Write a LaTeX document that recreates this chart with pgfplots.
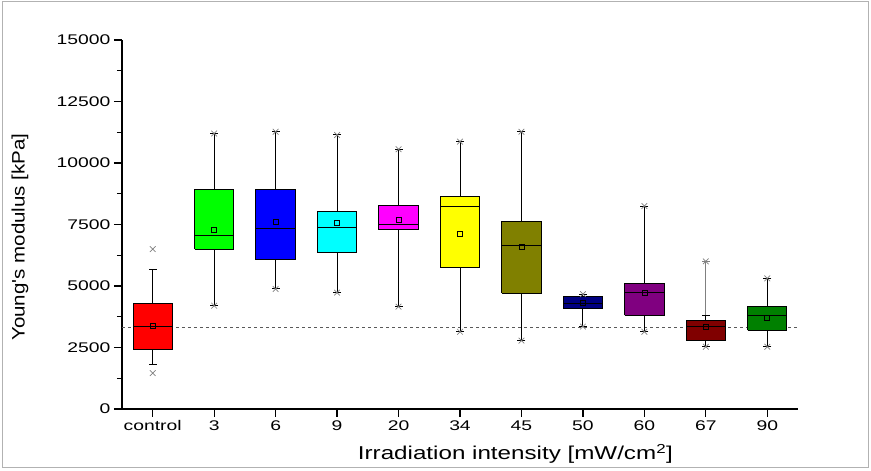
\documentclass[border=0pt]{standalone}
\usepackage{fontspec}
\setmainfont{Liberation Sans}
\newfontfamily\tickfont{Liberation Sans}[FakeStretch=1.38]
\newfontfamily\xlabfont{Liberation Sans}[FakeStretch=1.3]
\newfontfamily\ylabfont{Liberation Sans}[FakeStretch=1.14]
\usepackage{pgfplots}
\pgfplotsset{compat=1.18}
\definecolor{cRed}{RGB}{255,0,0}
\definecolor{cBlue}{RGB}{0,0,255}
\definecolor{cCyan}{RGB}{0,255,255}
\definecolor{cMagenta}{RGB}{255,0,255}
\definecolor{cYellow}{RGB}{255,255,0}
\definecolor{cOlive}{RGB}{128,128,0}
\definecolor{cNavy}{RGB}{0,0,128}
\definecolor{cPurple}{RGB}{128,0,128}
\definecolor{cMaroon}{RGB}{128,0,0}
\definecolor{cDGreen}{RGB}{0,128,0}
\definecolor{cLime}{RGB}{0,255,0}
\def\wcol{black}
% #1 centre, #2 left, #3 right, #4 lower whisker, #5 Q1, #6 median, #7 Q3, #8 upper whisker, #9 fill
\newcommand{\bx}[9]{%
\addplot[\wcol, line width=1pt, mark=-, mark size=4pt, mark options={solid}] coordinates {(#1,#4) (#1,#5)};
\addplot[\wcol, line width=1pt, mark=-, mark size=4pt, mark options={solid}] coordinates {(#1,#7) (#1,#8)};
\addplot[draw=black, fill=#9, line width=1pt, line join=miter] coordinates {(#2,#5) (#3,#5) (#3,#7) (#2,#7) (#2,#5)};
\addplot[black, line width=1pt] coordinates {(#2,#6) (#3,#6)};
}
\begin{document}
\begin{tikzpicture}
\useasboundingbox (0,0) rectangle (871pt,471pt);
\draw[gray!60, line width=1pt] (2pt,3pt) rectangle (868pt,469pt);
\begin{axis}[
 at={(122pt,62pt)}, anchor=south west,
 scale only axis, width=676pt, height=369pt,
 xmin=-0.5, xmax=10.5, ymin=0, ymax=15000,
 axis x line=bottom, axis y line=left,
 axis line style={-, line width=1.5pt},
 xtick={0,...,10}, xticklabels={control,3,6,9,20,34,45,50,60,67,90},
 ytick={0,2500,...,15000}, minor y tick num=1,
 tick align=outside, major tick length=8pt, minor tick length=5pt,
 tick style={line width=1.2pt, black},
 ticklabel style={font=\tickfont\fontsize{14}{16}\selectfont},
 /pgf/number format/assume math mode=true,
 /pgf/number format/1000 sep={},
 scaled y ticks=false,
 clip=false,
 xlabel={Irradiation intensity [mW/cm\textsuperscript{2}]},
 xlabel style={font=\xlabfont\fontsize{18.6}{20}\selectfont, at={(axis description cs:0.582,0)}, anchor=base, yshift=-51pt},
 ylabel={Young's modulus [kPa]},
 ylabel style={font=\ylabfont\fontsize{18}{20}\selectfont, at={(axis description cs:-0.151,0.466)}, anchor=center},
]
\addplot[gray!70!black, line width=0.7pt, dash pattern=on 3pt off 3pt] coordinates {(-0.5,3300) (10.5,3300)};

\bx{0}{-0.32}{0.32}{1790}{2400}{3370}{4270}{5690}{cRed}
\def\wcol{gray}
\bx{1}{0.68}{1.32}{4200}{6500}{7045}{8930}{11200}{cLime}
\def\wcol{black}
\bx{2}{1.68}{2.32}{4880}{6060}{7340}{8930}{11270}{cBlue}
\bx{3}{2.68}{3.32}{4730}{6370}{7380}{8020}{11140}{cCyan}
\bx{4}{3.68}{4.32}{4160}{7280}{7480}{8290}{10560}{cMagenta}
\bx{5}{4.68}{5.32}{3140}{5760}{8230}{8640}{10870}{cYellow}
\bx{6}{5.68}{6.32}{2780}{4700}{6650}{7610}{11270}{cOlive}
\bx{7}{6.68}{7.32}{3350}{4090}{4270}{4580}{4670}{cNavy}
\def\wcol{gray!60}
\bx{8}{7.68}{8.32}{3140}{3820}{4740}{5110}{8250}{cPurple}
\def\wcol{black}
\addplot[gray, line width=1pt, mark=-, mark size=4pt] coordinates {(9,3800) (9,6000)};
\bx{9}{8.68}{9.32}{2530}{2780}{3350}{3590}{3800}{cMaroon}
\bx{10}{9.68}{10.32}{2530}{3210}{3820}{4160}{5310}{cDGreen}

\addplot[only marks, mark=square, mark size=2.5pt, black, line width=0.7pt] coordinates {
(0,3370) (1,7280) (2,7610) (3,7550) (4,7680) (5,7140) (6,6600) (7,4300) (8,4740) (9,3350) (10,3700)};
\addplot[only marks, mark=x, mark size=4pt, gray, line width=0.7pt] coordinates {
(0,6500) (0,1460) (1,11200) (1,4200) (2,11270) (2,4880) (3,11140) (3,4730)
(4,10560) (4,4160) (5,10870) (5,3140) (6,11270) (6,2780) (7,4670) (7,3350)
(8,8250) (8,3140) (9,6000) (9,2530) (10,5310) (10,2530)};
\end{axis}
\end{tikzpicture}
\end{document}
